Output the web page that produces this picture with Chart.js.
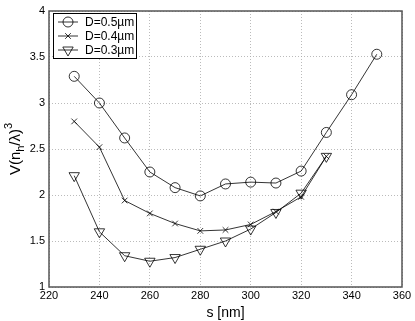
<!DOCTYPE html>
<html>
<head>
<meta charset="utf-8">
<script src="https://cdn.jsdelivr.net/npm/chart.js@4"></script>
<style>
  html, body { margin: 0; padding: 0; background: #fff; }
  #wrap { width: 415px; height: 321px; }
</style>
</head>
<body>
<div id="wrap"><canvas id="c" width="415" height="321"></canvas></div>
<script>
// data
const sizes = [230, 240, 250, 260, 270, 280, 290, 300, 310, 320, 330, 340, 350];
const d05 = [3.29, 3.00, 2.62, 2.25, 2.08, 1.99, 2.12, 2.14, 2.13, 2.26, 2.68, 3.09, 3.53];
const d04 = [2.80, 2.52, 1.94, 1.80, 1.69, 1.61, 1.62, 1.68, 1.82, 1.98, 2.42];
const d03 = [2.21, 1.60, 1.34, 1.28, 1.32, 1.41, 1.50, 1.63, 1.81, 2.02, 2.42];
const labels = ['D=0.5\u00b5m', 'D=0.4\u00b5m', 'D=0.3\u00b5m'];

const FONT = 'Liberation Sans, Arial, sans-serif';
const INK = '#000';

function pts(ys) {
  return ys.map((y, i) => ({ x: sizes[i], y: y }));
}

function series(label, ys, style, radius, rot) {
  return {
    label: label,
    data: pts(ys),
    borderColor: INK,
    backgroundColor: 'rgba(0,0,0,0)',
    borderWidth: 0.8,
    pointStyle: style,
    pointRadius: radius,
    pointRotation: rot,
    pointBorderColor: INK,
    pointBackgroundColor: 'rgba(0,0,0,0)',
    pointBorderWidth: 0.8,
    tension: 0,
    fill: false
  };
}

// box around the plot + legend + axis titles
const decor = {
  id: 'decor',
  afterDraw(chart) {
    const ctx = chart.ctx;
    const a = chart.chartArea;
    ctx.save();
    ctx.strokeStyle = '#555';
    ctx.lineWidth = 1.5;
    ctx.strokeRect(a.left, a.top, a.right - a.left, a.bottom - a.top);

    // legend
    const lx = 53, ly = 13, lw = 83, lh = 45;
    ctx.fillStyle = '#fff';
    ctx.fillRect(lx, ly, lw, lh);
    ctx.strokeStyle = '#000';
    ctx.lineWidth = 1;
    ctx.strokeRect(lx + 0.5, ly + 0.5, lw, lh);
    ctx.font = '12px ' + FONT;
    ctx.textBaseline = 'middle';
    ctx.textAlign = 'left';
    chart.data.datasets.forEach((ds, i) => {
      const y = ly + 9 + i * 14;
      ctx.strokeStyle = INK;
      ctx.lineWidth = 0.8;
      ctx.beginPath();
      ctx.moveTo(lx + 5, y);
      ctx.lineTo(lx + 25, y);
      ctx.stroke();
      ctx.fillStyle = 'rgba(0,0,0,0)';
      Chart.helpers.drawPoint(ctx, {
        pointStyle: ds.pointStyle, radius: ds.pointRadius, rotation: ds.pointRotation,
        borderWidth: 0.8
      }, lx + 15, y);
      ctx.fillStyle = INK;
      ctx.fillText(ds.label, lx + 32, y + 1);
    });

    // x title
    ctx.fillStyle = INK;
    ctx.font = '14px ' + FONT;
    ctx.textAlign = 'center';
    ctx.textBaseline = 'alphabetic';
    ctx.fillText('s [nm]', (a.left + a.right) / 2, 317);

    // y title V(n_h/λ)^3
    const parts = [
      { t: 'V(n', size: 15, dy: 0 },
      { t: 'h', size: 11, dy: 4 },
      { t: '/\u03bb)', size: 15, dy: 0 },
      { t: '3', size: 11, dy: -8 }
    ];
    let total = 0;
    parts.forEach(p => { ctx.font = p.size + 'px ' + FONT; p.w = ctx.measureText(p.t).width; total += p.w; });
    ctx.translate(20, 149);
    ctx.rotate(-Math.PI / 2);
    ctx.textAlign = 'left';
    let x = -total / 2;
    parts.forEach(p => {
      ctx.font = p.size + 'px ' + FONT;
      ctx.fillText(p.t, x, p.dy);
      x += p.w;
    });
    ctx.restore();
  }
};

new Chart(document.getElementById('c'), {
  type: 'line',
  data: {
    datasets: [
      series(labels[0], d05, 'circle', 5, 0),
      series(labels[1], d04, 'crossRot', 4, 0),
      series(labels[2], d03, 'triangle', 6, 180)
    ]
  },
  options: {
    responsive: false,
    animation: false,
    layout: { padding: { top: 11, right: 13, left: 0, bottom: 0 } },
    plugins: { legend: { display: false }, tooltip: { enabled: false } },
    scales: {
      x: {
        type: 'linear', min: 220, max: 360,
        afterFit(s) { s.height = 34; },
        ticks: { stepSize: 20, color: INK, font: { family: FONT, size: 11 }, padding: 2, maxRotation: 0 },
        grid: { color: '#aaa', lineWidth: 0.8, drawTicks: false },
        border: { display: false, dash: [1, 2] }
      },
      y: {
        min: 1, max: 4,
        afterFit(s) { s.width = 49; },
        ticks: {
          stepSize: 0.5, color: INK, font: { family: FONT, size: 11 }, padding: 4,
          callback: v => String(v)
        },
        grid: { color: '#aaa', lineWidth: 0.8, drawTicks: false },
        border: { display: false, dash: [1, 2] }
      }
    }
  },
  plugins: [decor]
});
</script>
</body>
</html>
